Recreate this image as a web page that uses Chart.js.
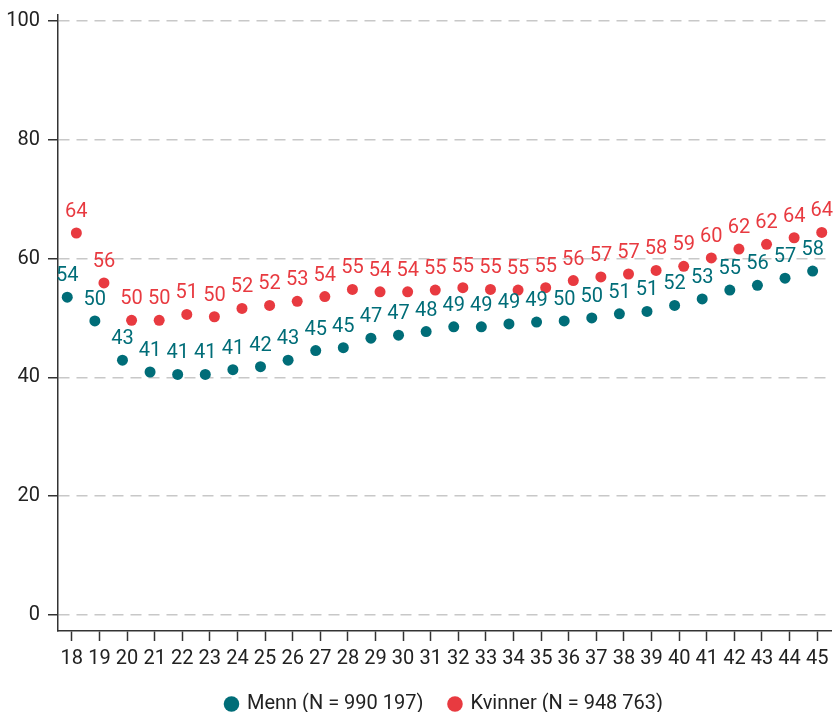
<!DOCTYPE html>
<html>
<head>
<meta charset="utf-8">
<script src="https://cdn.jsdelivr.net/npm/chart.js@4"></script>
<style>
  html, body { margin: 0; padding: 0; background: #fff; }
  #wrap { width: 837px; height: 712px; position: relative; }
</style>
</head>
<body>
<div id="wrap"><canvas id="myChart"></canvas></div>
<script>
const ages = [18, 19, 20, 21, 22, 23, 24, 25, 26, 27, 28, 29, 30, 31,
              32, 33, 34, 35, 36, 37, 38, 39, 40, 41, 42, 43, 44, 45];
const menn = [53.5, 49.5, 42.9, 40.9, 40.5, 40.5, 41.3, 41.8, 42.9, 44.5,
              45.0, 46.6, 47.1, 47.7, 48.5, 48.5, 49.0, 49.3, 49.5, 50.0,
              50.7, 51.1, 52.1, 53.2, 54.7, 55.5, 56.7, 57.9];
const kvinner = [64.3, 55.9, 49.6, 49.6, 50.6, 50.2, 51.6, 52.1, 52.8, 53.6,
                 54.8, 54.4, 54.4, 54.7, 55.1, 54.8, 54.7, 55.1, 56.3, 56.9,
                 57.4, 58.0, 58.7, 60.1, 61.6, 62.4, 63.5, 64.4];
const yTicks = [0, 20, 40, 60, 80, 100];
const seriesNames = ["Menn (N = 990 197)", "Kvinner (N = 948 763)"];

const teal = "#006d78";
const red = "#e83a40";
const dodge = 0.165;
const fontFam = "Roboto, 'Liberation Sans', sans-serif";

const toPoints = (vals, shift) => vals.map((v, i) => ({ x: ages[i] + shift, y: v }));

// draws the rounded value above each dot
const pointLabels = {
    id: "pointLabels",
    afterDatasetsDraw(chart) {
        const ctx = chart.ctx;
        chart.data.datasets.forEach((ds, i) => {
            const meta = chart.getDatasetMeta(i);
            ctx.save();
            ctx.fillStyle = ds.backgroundColor;
            ctx.font = "20px " + fontFam;
            ctx.textAlign = "center";
            ctx.textBaseline = "middle";
            meta.data.forEach((pt, j) => {
                ctx.fillText(Math.round(ds.data[j].y), pt.x, pt.y - 21);
            });
            ctx.restore();
        });
    },
};

const data = {
    datasets: [
        {
            label: seriesNames[0],
            data: toPoints(menn, -dodge),
            backgroundColor: teal,
            borderColor: teal,
            pointRadius: 5.5,
            pointHoverRadius: 5.5,
            pointBorderWidth: 0,
            showLine: false,
        },
        {
            label: seriesNames[1],
            data: toPoints(kvinner, dodge),
            backgroundColor: red,
            borderColor: red,
            pointRadius: 5.5,
            pointHoverRadius: 5.5,
            pointBorderWidth: 0,
            showLine: false,
        },
    ],
};

const config = {
    type: "scatter",
    data,
    plugins: [pointLabels],
    options: {
        responsive: true,
        maintainAspectRatio: false,
        animation: false,
        layout: {
            padding: { top: 15, right: 6, left: 0, bottom: -12 },
        },
        plugins: {
            legend: {
                position: "bottom",
                fullSize: false,
                labels: {
                    usePointStyle: true,
                    pointStyle: "circle",
                    boxWidth: 11,
                    boxHeight: 11,
                    padding: 26,
                    color: "#222",
                    font: { size: 20, family: fontFam },
                },
            },
            tooltip: { enabled: false },
        },
        scales: {
            x: {
                type: "linear",
                min: 17.5,
                max: 45.5,
                afterBuildTicks: (scale) => {
                    scale.ticks = ages.map((v) => ({ value: v }));
                },
                afterFit: (scale) => {
                    scale.height = 37;
                },
                ticks: {
                    color: "#222",
                    padding: 6,
                    maxRotation: 0,
                    autoSkip: false,
                    font: { size: 20, family: fontFam },
                },
                grid: {
                    drawOnChartArea: false,
                    drawTicks: true,
                    tickLength: 10,
                    tickWidth: 1.5,
                    tickColor: "#333",
                },
                border: { color: "#333", width: 1.5 },
            },
            y: {
                min: -2.7,
                max: 101,
                afterBuildTicks: (scale) => {
                    scale.ticks = yTicks.map((v) => ({ value: v }));
                },
                afterFit: (scale) => {
                    scale.width = 58;
                    scale.paddingTop = 0;
                    scale.paddingBottom = 0;
                },
                ticks: {
                    color: "#222",
                    padding: 8,
                    font: { size: 20, family: fontFam },
                },
                grid: {
                    color: "#c8c8c8",
                    lineWidth: 1.5,
                    tickLength: 10,
                    tickWidth: 1.5,
                    tickColor: "#333",
                    tickBorderDash: [],
                },
                border: { color: "#333", width: 1.5, dash: [11, 7] },
            },
        },
    },
};

const ctx = document.getElementById("myChart").getContext("2d");
const chart = new Chart(ctx, config);
</script>
</body>
</html>
